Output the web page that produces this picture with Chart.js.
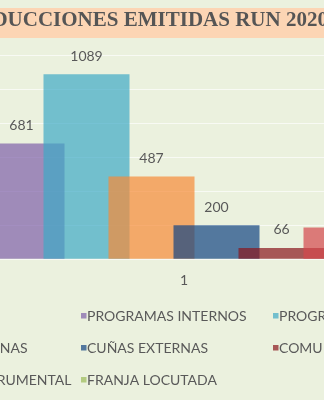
<!DOCTYPE html>
<html><head><meta charset="utf-8">
<script src="https://cdn.jsdelivr.net/npm/chart.js@4.4.1/dist/chart.umd.min.js"></script>
<style>
html,body{margin:0;padding:0;width:324px;height:400px;overflow:hidden;background:#EBF1DE;}
#wrap{position:absolute;left:-250px;top:0;width:760px;height:400px;}
</style></head><body>
<div id="wrap"><canvas id="c" width="760" height="400"></canvas></div>
<script>
// ---- data ----
const categories = ['1'];
const seriesNames = ['NOTICIEROS', 'PROGRAMAS INTERNOS', 'PROGRAMAS EXTERNOS', 'CUÑAS INTERNAS', 'CUÑAS EXTERNAS', 'COMUNICADOS', 'MUSICA INSTRUMENTAL', 'FRANJA LOCUTADA'];
const seriesValues = [360, 681, 1089, 487, 200, 66, 186, 120];
const seriesColors = ['rgba(119,147,60,0.7)', 'rgba(127,95,169,0.7)', 'rgba(63,170,198,0.7)', 'rgba(247,138,55,0.7)', 'rgba(19,69,131,0.7)', 'rgba(138,21,29,0.7)', 'rgba(212,71,77,0.7)', 'rgba(155,187,89,0.7)'];
const yTickValues = [0, 200, 400, 600, 800, 1000, 1200];
const chartTitle = 'PRODUCCIONES EMITIDAS RUN 2020';

// ---- styling / layout ----
const TEXT = '#595959';
const OFFSET = 250; // canvas x = page x + OFFSET
const legendCols = [-97 + OFFSET, 81 + OFFSET, 273 + OFFSET];
const legendRows = [316.5, 348.5, 380.5];

Chart.defaults.font.family = 'Lato';

const bgPlugin = {
  id: 'bg',
  beforeDraw(chart) {
    const ctx = chart.ctx;
    ctx.save();
    ctx.fillStyle = '#EBF1DE';
    ctx.fillRect(0, 0, chart.width, chart.height);
    ctx.fillStyle = '#FCD5B4';
    ctx.fillRect(0, 8, chart.width, 30);
    ctx.restore();
  }
};

const orderPlugin = {
  id: 'order',
  beforeDatasetsDraw(chart) {
    const metas = chart.getSortedVisibleDatasetMetas();
    for (const m of metas) m.controller.draw();
    return false;
  }
};

const labelPlugin = {
  id: 'vlabels',
  afterDraw(chart) {
    const ctx = chart.ctx;
    ctx.save();
    ctx.font = '14px Lato';
    ctx.fillStyle = TEXT;
    ctx.textAlign = 'center';
    ctx.textBaseline = 'alphabetic';
    chart.getSortedVisibleDatasetMetas().forEach(m => {
      const el = m.data[0];
      ctx.fillText(String(chart.data.datasets[m.index].data[0]), el.x, el.y - 13.5);
    });
    ctx.restore();
  }
};

const legendPlugin = {
  id: 'gridLegend',
  afterDraw(chart) {
    const ctx = chart.ctx;
    ctx.save();
    ctx.font = '14px Lato';
    ctx.textAlign = 'left';
    ctx.textBaseline = 'middle';
    chart.data.datasets.forEach((ds, i) => {
      const x = legendCols[i % 3];
      const y = legendRows[Math.floor(i / 3)];
      ctx.fillStyle = ds.backgroundColor;
      ctx.fillRect(x, y - 3.5, 5.5, 5.5);
      ctx.fillStyle = TEXT;
      ctx.fillText(ds.label, x + 6, y);
    });
    ctx.restore();
  }
};

new Chart(document.getElementById('c'), {
  type: 'bar',
  data: {
    labels: categories,
    datasets: seriesNames.map((name, i) => ({
      label: name,
      data: [seriesValues[i]],
      backgroundColor: seriesColors[i],
      borderWidth: 0,
      categoryPercentage: 0.8125,
      barPercentage: 1.3231
    }))
  },
  options: {
    responsive: false,
    animation: false,
    layout: { padding: { left: 22, right: 6, top: 0, bottom: 0 } },
    plugins: {
      legend: { display: false },
      tooltip: { enabled: false },
      title: {
        display: true,
        text: chartTitle,
        color: '#555555',
        font: { family: 'Liberation Serif', size: 21, weight: 'bold', lineHeight: 1.2 },
        padding: { top: 8.4, bottom: 21.8 }
      }
    },
    scales: {
      x: {
        grid: { display: false },
        border: { display: false },
        ticks: { color: TEXT, font: { family: 'Lato', size: 14 }, padding: 5 },
        afterFit(s) { s.height = 140.8; }
      },
      y: {
        min: 0,
        max: yTickValues[yTickValues.length - 1],
        afterBuildTicks(s) { s.ticks = yTickValues.map(v => ({ value: v })); },
        ticks: { display: false },
        grid: { color: 'rgba(255,255,255,0.65)', drawTicks: false, lineWidth: 1 },
        border: { display: false },
        afterFit(s) { s.width = 92; }
      }
    }
  },
  plugins: [bgPlugin, orderPlugin, labelPlugin, legendPlugin]
});
</script>
</body></html>
